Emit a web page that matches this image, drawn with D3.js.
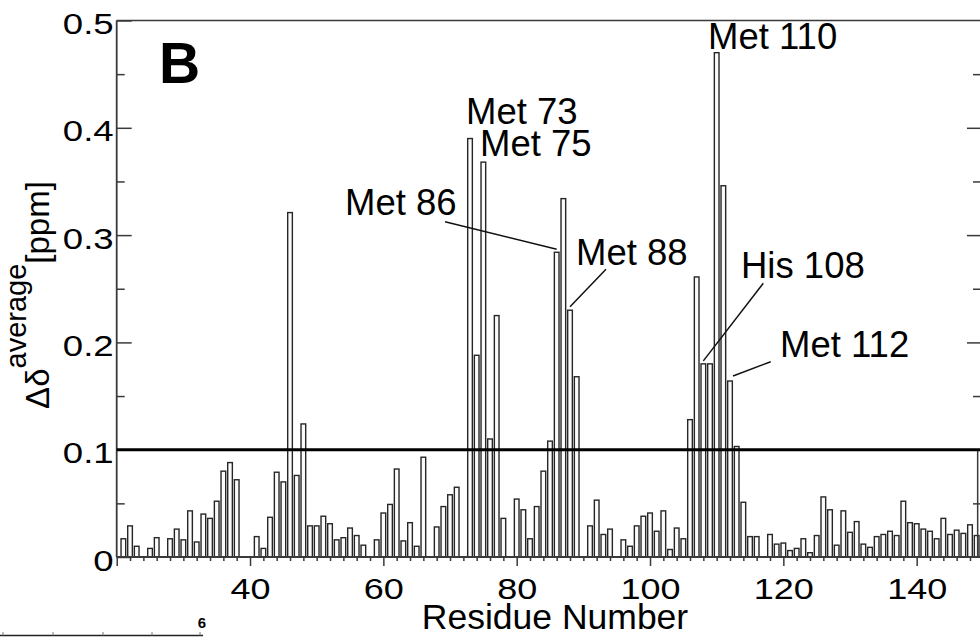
<!DOCTYPE html>
<html>
<head>
<meta charset="utf-8">
<script src="https://cdn.jsdelivr.net/npm/d3@7/dist/d3.min.js"></script>
<style>
  html, body { margin: 0; padding: 0; background: #fff; }
  svg { display: block; }
  text { font-family: "Liberation Sans", Arial, Helvetica, sans-serif; fill: #000; }
</style>
</head>
<body>
<svg id="chart" width="980" height="637"></svg>
<script>
// ---------------- data ----------------
const residues = d3.range(21, 150);
const shifts = [
  0.017, 0.029, 0.010, null, 0.008, 0.018, null, 0.017, 0.026, 0.016,   // 21-30
  0.043, 0.014, 0.040, 0.036, 0.052, 0.080, 0.088, 0.072, null, null,   // 31-40
  0.019, 0.008, 0.037, 0.079, 0.070, 0.321, 0.076, 0.124, 0.029, 0.029, // 41-50
  0.038, 0.031, 0.016, 0.018, 0.027, 0.020, 0.011, null, 0.016, 0.041,  // 51-60
  0.049, 0.082, 0.015, 0.032, 0.010, 0.093, null, 0.028, 0.047, 0.058,  // 61-70
  0.065, null, 0.390, 0.188, 0.368, 0.110, 0.225, 0.036, null, 0.054,   // 71-80
  0.044, 0.017, 0.047, 0.080, 0.108, 0.284, 0.334, 0.230, 0.168, null,  // 81-90
  0.029, 0.053, 0.021, 0.026, null, 0.016, 0.010, 0.029, 0.038, 0.041,  // 91-100
  0.024, 0.043, 0.007, 0.027, 0.017, 0.128, 0.261, 0.180, 0.180, 0.470, // 101-110
  0.346, 0.164, 0.103, 0.051, 0.019, 0.019, null, 0.021, 0.012, 0.013,  // 111-120
  0.006, 0.008, 0.017, 0.004, 0.020, 0.056, 0.044, 0.011, 0.043, 0.023, // 121-130
  0.033, 0.012, 0.009, 0.019, 0.021, 0.024, 0.020, 0.052, 0.032, 0.031, // 131-140
  0.026, 0.024, 0.017, 0.036, 0.021, 0.025, 0.022, 0.030, 0.020         // 141-149
];
const threshold = 0.1;
const xTickValues = [20, 40, 60, 80, 100, 120, 140];
const yTickValues = [0, 0.1, 0.2, 0.3, 0.4, 0.5];
const yTickLabels = ["0", "0.1", "0.2", "0.3", "0.4", "0.5"];
const annotLabels   = ["Met 110", "Met 73", "Met 75", "Met 86", "Met 88", "His 108", "Met 112"];
const annotResidues = [110, 73, 75, 86, 88, 108, 112];
const panelLetter = "B";
const xTitle = "Residue Number";

// ---------------- layout (positions / styles) ----------------
const annotLayout = [
  { tx: 708, ty: 49 },
  { tx: 466, ty: 124 },
  { tx: 480, ty: 156 },
  { tx: 345, ty: 215, lx: 445, ly: 221.7, ex: 0, ey: -3 },
  { tx: 576, ty: 265, lx: 606, ly: 269.3, ex: 0, ey: -3.5 },
  { tx: 741, ty: 278, lx: 763.3, ly: 283.3, ex: 0, ey: -3 },
  { tx: 780, ty: 357, lx: 770.7, ly: 361.7, ex: 3, ey: -5 }
];

const svg = d3.select("#chart");
const x = d3.scaleLinear().domain([20, 149.8]).range([116.7, 982]);
const y = d3.scaleLinear().domain([0, 0.5]).range([557, 20.5]);
const step = x(21) - x(20);
const barW = step * 0.7;
const axisColor = "#3a3a3a";

const data = residues.map((r, i) => ({ r, v: shifts[i] })).filter(d => d.v != null);

// bars
svg.append("g").selectAll("rect").data(data).join("rect")
  .attr("x", d => x(d.r) - barW / 2)
  .attr("y", d => y(d.v))
  .attr("width", barW)
  .attr("height", d => y(0) - y(d.v))
  .attr("fill", "#fbfbfb")
  .attr("stroke", "#262626")
  .attr("stroke-width", 1.4);

// top frame
svg.append("line")
  .attr("x1", x(20)).attr("x2", 980)
  .attr("y1", y(0.5)).attr("y2", y(0.5))
  .attr("stroke", axisColor).attr("stroke-width", 1.6);

// x axis: minor ticks
const gxMinor = svg.append("g").attr("transform", `translate(0,${y(0)})`)
  .call(d3.axisBottom(x).tickValues(d3.range(22, 150, 2).filter(v => v % 20 !== 0)).tickSize(4).tickFormat(""));
gxMinor.select(".domain").remove();
gxMinor.selectAll("line").attr("stroke", axisColor).attr("stroke-width", 1.5);

// x axis: major ticks + labels
const gx = svg.append("g").attr("transform", `translate(0,${y(0)})`)
  .call(d3.axisBottom(x).tickValues(xTickValues).tickSize(9).tickPadding(0));
gx.select(".domain").attr("stroke", axisColor).attr("stroke-width", 1.8)
  .attr("d", `M${x(20)},0H980`);
gx.selectAll("line").attr("stroke", axisColor).attr("stroke-width", 1.5);
gx.selectAll("text")
  .attr("y", 42).attr("dy", 0)
  .attr("font-size", 30)
  .attr("transform", "scale(1.2,1)")
  .attr("fill", "#000");

// y axis: minor ticks (inward)
const gyMinor = svg.append("g").attr("transform", `translate(${x(20)},0)`)
  .call(d3.axisRight(y).tickValues([0.05, 0.15, 0.25, 0.35, 0.45]).tickSize(8).tickFormat(""));
gyMinor.select(".domain").remove();
gyMinor.selectAll("line").attr("stroke", axisColor).attr("stroke-width", 1.5);

// y axis: major ticks inward + labels on the left
const gy = svg.append("g").attr("transform", `translate(${x(20)},0)`)
  .call(d3.axisRight(y).tickValues(yTickValues).tickSize(15)
    .tickFormat((d, i) => yTickLabels[i]));
gy.select(".domain").attr("stroke", axisColor).attr("stroke-width", 1.8)
  .attr("d", `M0,${y(0)}V${y(0.5)}`);
gy.selectAll("line").attr("stroke", axisColor).attr("stroke-width", 1.5);
gy.selectAll("text")
  .attr("x", -3 / 1.22).attr("dy", 0).attr("y", 13)
  .attr("text-anchor", "end")
  .attr("font-size", 30)
  .attr("transform", "scale(1.22,1)")
  .attr("fill", "#000");

// right axis ticks (frame at right edge, inward)
const gyR = svg.append("g").attr("transform", "translate(981,0)")
  .call(d3.axisLeft(y).tickValues([0.2, 0.3, 0.4]).tickSize(14).tickFormat(""));
gyR.select(".domain").remove();
gyR.selectAll("line").attr("stroke", axisColor).attr("stroke-width", 1.5);
const gyR2 = svg.append("g").attr("transform", "translate(981,0)")
  .call(d3.axisLeft(y).tickValues([0.05, 0.15, 0.25, 0.35, 0.45]).tickSize(8).tickFormat(""));
gyR2.select(".domain").remove();
gyR2.selectAll("line").attr("stroke", axisColor).attr("stroke-width", 1.5);
svg.append("line")
  .attr("x1", x(149.15)).attr("x2", x(149.15))
  .attr("y1", y(threshold)).attr("y2", y(0))
  .attr("stroke", axisColor).attr("stroke-width", 1.5);

// threshold line
svg.append("line")
  .attr("x1", x(20)).attr("x2", 980)
  .attr("y1", y(threshold)).attr("y2", y(threshold))
  .attr("stroke", "#000").attr("stroke-width", 3);

// annotations
annotLabels.forEach((lab, i) => {
  const L = annotLayout[i];
  const r = annotResidues[i];
  const v = shifts[residues.indexOf(r)];
  svg.append("text")
    .attr("x", L.tx).attr("y", L.ty)
    .attr("font-size", 36.5)
    .text(lab);
  if (L.lx !== undefined) {
    svg.append("line")
      .attr("x1", L.lx).attr("y1", L.ly)
      .attr("x2", x(r) + L.ex).attr("y2", y(v) + L.ey)
      .attr("stroke", "#111").attr("stroke-width", 1.5);
  }
});

// panel letter
svg.append("text")
  .attr("x", 159).attr("y", 83)
  .attr("font-size", 57).attr("font-weight", "bold")
  .text(panelLetter);

// x title
svg.append("text")
  .attr("x", 555).attr("y", 629)
  .attr("text-anchor", "middle")
  .attr("font-size", 35.5)
  .text(xTitle);

// y title
const yt = svg.append("text")
  .attr("transform", "translate(49,295) rotate(-90)")
  .attr("text-anchor", "middle")
  .attr("font-size", 33);
yt.append("tspan").text("Δδ");
yt.append("tspan").attr("dy", -23).attr("font-size", 29).text("average");
yt.append("tspan").attr("dy", 23).text("[ppm]");

// overlapping fragment of a neighbouring panel (bottom-left)
svg.append("rect").attr("x", 0).attr("y", 574).attr("width", 208).attr("height", 63).attr("fill", "#fff");
svg.append("line").attr("x1", 0).attr("x2", 203).attr("y1", 635.5).attr("y2", 635.5)
  .attr("stroke", "#222").attr("stroke-width", 1.5);
[3, 53, 103, 152, 200].forEach(px => {
  svg.append("line").attr("x1", px).attr("x2", px).attr("y1", 632).attr("y2", 635.5)
    .attr("stroke", "#777").attr("stroke-width", 1);
});
svg.append("text").attr("x", 202).attr("y", 628).attr("text-anchor", "middle")
  .attr("font-size", 15).attr("font-weight", "bold").text("6");
</script>
</body>
</html>
